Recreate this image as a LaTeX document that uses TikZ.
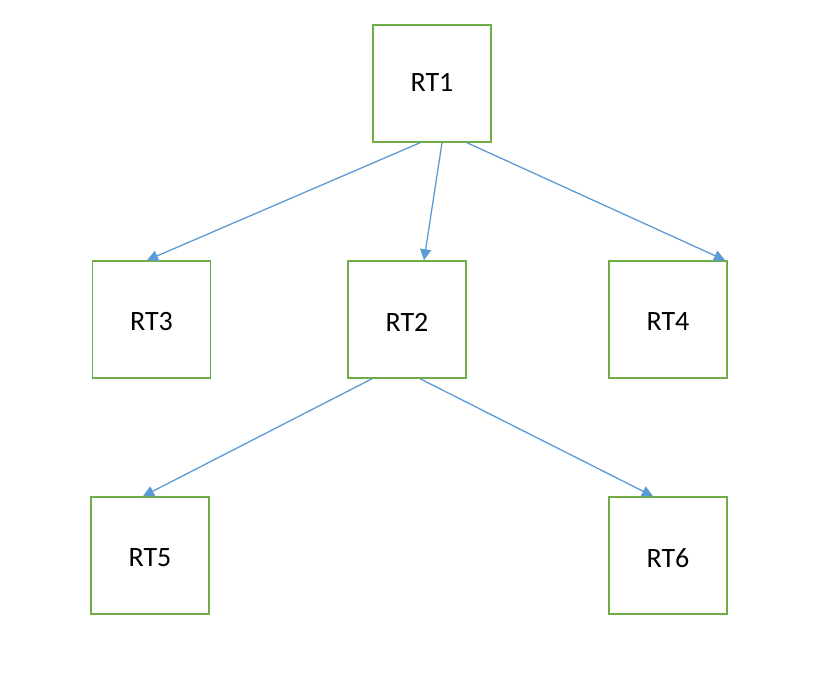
\documentclass[tikz,border=0pt]{standalone}
\usepackage{fontspec}
\setmainfont{Carlito}
\usetikzlibrary{arrows.meta}
\definecolor{boxgreen}{HTML}{70AD47}
\definecolor{lineblue}{HTML}{5B9BD5}
\begin{document}
\begin{tikzpicture}[x=1pt,y=-1pt,
  rtbox/.style={draw=boxgreen,line width=1.5pt,minimum width=118pt,minimum height=117pt,inner sep=0pt},
  lbl/.style={font=\fontsize{28}{30}\selectfont,inner sep=0pt},
  conn/.style={draw=lineblue,line width=1.3pt,-{Triangle[length=11pt,width=11pt]}}]
\useasboundingbox (0,0) rectangle (836,680);
\node[rtbox] (rt1) at (432,83.5) {};
\node[rtbox] (rt3) at (151.5,319.5) {};
\node[rtbox] (rt2) at (407,319.5) {};
\node[rtbox] (rt4) at (668,319.5) {};
\node[rtbox] (rt5) at (150,555.5) {};
\node[rtbox] (rt6) at (668,555.5) {};
\node[lbl] (t1) at ([yshift=1pt]rt1.center) {RT1};
\node[lbl] (t3) at ([yshift=-2.5pt]rt3.center) {RT3};
\node[lbl] (t2) at ([yshift=-2.5pt]rt2.center) {RT2};
\node[lbl] (t4) at ([yshift=-2.5pt]rt4.center) {RT4};
\node[lbl] (t5) at ([yshift=-2.5pt]rt5.center) {RT5};
\node[lbl] (t6) at ([yshift=-2.5pt]rt6.center) {RT6};
\draw[conn] ([xshift=-12pt]rt1.south) -- ([xshift=-4.5pt]rt3.north);
\draw[conn] ([xshift=10pt]rt1.south) -- ([xshift=17pt]rt2.north);
\draw[conn] ([xshift=35pt]rt1.south) -- ([xshift=57pt]rt4.north);
\draw[conn] ([xshift=-35pt]rt2.south) -- ([xshift=-7pt]rt5.north);
\draw[conn] ([xshift=13pt]rt2.south) -- ([xshift=-15pt]rt6.north);
\end{tikzpicture}
\end{document}
